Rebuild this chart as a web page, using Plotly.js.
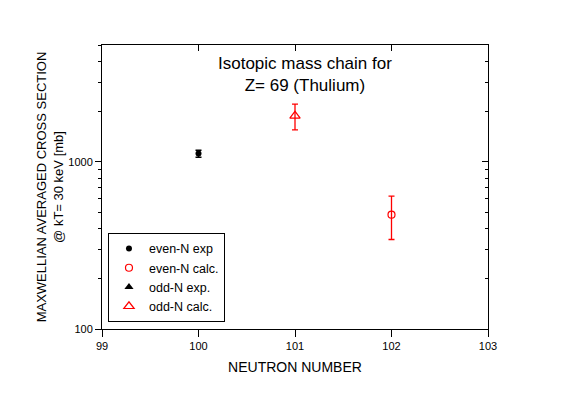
<!DOCTYPE html>
<html>
<head>
<meta charset="utf-8">
<script src="https://cdn.plot.ly/plotly-3.0.1.min.js"></script>
<style>html,body{margin:0;padding:0;background:#fff;}#plot{width:567px;height:395px;}</style>
</head>
<body>
<div id="plot"></div>
<script>
// Data
const evenExpN = [100];
const evenExpSigma = [1120];
const evenExpErr = [55];

const evenCalcN = [102];
const evenCalcSigma = [483];
const evenCalcErr = [140];

// no odd-N experimental point is plotted (legend entry only)
const oddExpN = [null];
const oddExpSigma = [null];

const oddCalcN = [101];
const oddCalcSigma = [1885];
const oddCalcErr = [330];

const xTicks = [99, 100, 101, 102, 103];
const yMajor = [100, 1000];
const yMinor = [200, 300, 400, 500, 600, 700, 800, 900, 2000, 3000, 4000, 5000];

const font = 'Arial, "Liberation Sans", sans-serif';

const traces = [
  {x: evenExpN, y: evenExpSigma, name: 'even-N exp', mode: 'markers', type: 'scatter',
   marker: {symbol: 'circle', size: 6, color: 'black'},
   error_y: {type: 'data', array: evenExpErr, visible: true, color: 'black', thickness: 1.5, width: 3}},
  {x: evenCalcN, y: evenCalcSigma, name: 'even-N calc.', mode: 'markers', type: 'scatter',
   marker: {symbol: 'circle-open', size: 7, color: 'red', line: {width: 1.2}},
   error_y: {type: 'data', array: evenCalcErr, visible: true, color: 'red', thickness: 1.3, width: 3}},
  {x: oddExpN, y: oddExpSigma, name: 'odd-N exp.', mode: 'markers', type: 'scatter',
   marker: {symbol: 'triangle-up', size: 8, color: 'black'}},
  {x: oddCalcN, y: oddCalcSigma, name: 'odd-N calc.', mode: 'markers', type: 'scatter',
   marker: {symbol: 'triangle-up-open', size: 9, color: 'red', line: {width: 1.2}},
   error_y: {type: 'data', array: oddCalcErr, visible: true, color: 'red', thickness: 1.3, width: 3}},
  {x: [], y: [], xaxis: 'x2', yaxis: 'y2', showlegend: false, type: 'scatter', mode: 'markers', hoverinfo: 'skip'}
];

const layout = {
  width: 567, height: 395,
  margin: {l: 102, r: 79, t: 45, b: 66},
  paper_bgcolor: 'white', plot_bgcolor: 'white',
  font: {family: font, color: 'black', size: 11},
  showlegend: true,
  legend: {x: 0.0155, y: 0.025, xanchor: 'left', yanchor: 'bottom',
           bordercolor: 'black', borderwidth: 1, bgcolor: 'white', itemwidth: 30,
           font: {family: font, size: 12.5, color: 'black'}},
  xaxis: {range: [99, 103], tickmode: 'array', tickvals: xTicks, ticks: 'outside', ticklen: 7,
          tickcolor: 'black', showgrid: false, zeroline: false, showline: true, linecolor: 'black',
          linewidth: 1, tickfont: {size: 11, family: font},
          title: {text: 'NEUTRON NUMBER', font: {size: 14, family: font}, standoff: 10}},
  yaxis: {type: 'log', range: [2, Math.log10(5000)], tickmode: 'array', tickvals: yMajor,
          ticktext: yMajor.map(String), ticks: 'outside', ticklen: 6, tickcolor: 'black',
          showgrid: false, zeroline: false, showline: true, linecolor: 'black', linewidth: 1,
          tickfont: {size: 11, family: font},
          minor: {tickmode: 'array', tickvals: yMinor, ticks: 'outside', ticklen: 3, tickcolor: 'black', showgrid: false},
          title: {text: 'MAXWELLIAN AVERAGED CROSS SECTION<br>@ kT= 30 keV [mb]', font: {size: 13, family: font}, standoff: 1}},
  xaxis2: {overlaying: 'x', side: 'top', range: [99, 103], tickmode: 'array', tickvals: xTicks,
           ticks: 'inside', ticklen: 6, tickcolor: 'black', showticklabels: false, showgrid: false,
           zeroline: false, showline: true, linecolor: 'black', linewidth: 1},
  yaxis2: {overlaying: 'y', side: 'right', type: 'log', range: [2, Math.log10(5000)], tickmode: 'array',
           tickvals: yMajor, ticks: 'inside', ticklen: 6, tickcolor: 'black', showticklabels: false,
           showgrid: false, zeroline: false, showline: true, linecolor: 'black', linewidth: 1,
           minor: {tickmode: 'array', tickvals: yMinor, ticks: 'inside', ticklen: 3, tickcolor: 'black', showgrid: false}},
  annotations: [
    {text: 'Isotopic mass chain for<br>Z= 69 (Thulium)', xref: 'paper', yref: 'paper',
     x: 0.527, y: 0.975, xanchor: 'center', yanchor: 'top', showarrow: false,
     font: {size: 17, family: font, color: 'black'}}
  ]
};

Plotly.newPlot('plot', traces, layout, {staticPlot: true, displayModeBar: false});
</script>
</body>
</html>
